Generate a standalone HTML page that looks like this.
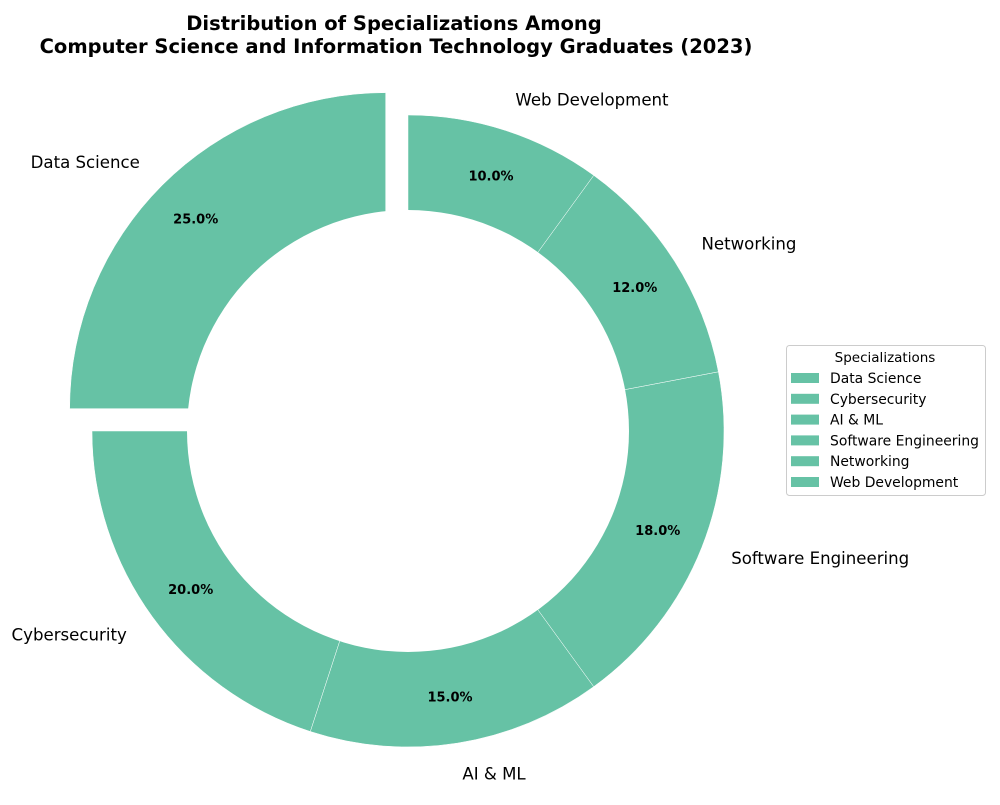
<!DOCTYPE html>
<html><head><meta charset="utf-8"><style>
body{margin:0;background:#fff;}
svg{font-family:"DejaVu Sans","Liberation Sans",sans-serif;}
</style></head><body>
<svg id="chart" width="1000" height="800" viewBox="0 0 1000 800">
<text x="394" y="30" text-anchor="middle" font-size="19.5" font-weight="bold">Distribution of Specializations Among</text>
<text x="396" y="53" text-anchor="middle" font-size="19.5" font-weight="bold">Computer Science and Information Technology Graduates (2023)</text>
<g id="wedges"></g>
<g id="labels"></g>
<g id="legend">
<rect x="786.5" y="345.5" width="199" height="150" rx="3" fill="#fff" stroke="#ccc"/>
<text x="885" y="362" text-anchor="middle" font-size="13.5">Specializations</text>
</g>
</svg>
<script>
const categories = ["Data Science","Cybersecurity","AI & ML","Software Engineering","Networking","Web Development"];
const values = [25,20,15,18,12,10];
const explodes = [0.1,0,0,0,0,0];
const color = "#66c2a5";
const cx=408, cy=431, R=316, r=221;
const ns="http://www.w3.org/2000/svg";
const svg=document.getElementById('wedges');
const lab=document.getElementById('labels');
const leg=document.getElementById('legend');
const total=values.reduce((a,b)=>a+b,0);
function pt(a,rad,ox,oy){return [cx+ox+Math.cos(a)*rad, cy+oy-Math.sin(a)*rad];}
let ang=90;
values.forEach((v,i)=>{
  const sweep=v/total*360;
  const a0=ang*Math.PI/180, a1=(ang+sweep)*Math.PI/180, am=(ang+sweep/2)*Math.PI/180;
  const ox=Math.cos(am)*explodes[i]*R, oy=-Math.sin(am)*explodes[i]*R;
  const large=sweep>180?1:0;
  const p0=pt(a0,R,ox,oy),p1=pt(a1,R,ox,oy);
  const d=`M${cx+ox},${cy+oy} L${p0[0]},${p0[1]} A${R},${R} 0 ${large} 0 ${p1[0]},${p1[1]} Z`;
  const path=document.createElementNS(ns,'path');
  path.setAttribute('d',d);path.setAttribute('fill',color);path.setAttribute('stroke','#fff');path.setAttribute('stroke-width','0.5');
  
  
  svg.appendChild(path);
  const lp=pt(am,R*1.1,ox,oy);
  const t=document.createElementNS(ns,'text');
  t.setAttribute('x',lp[0]);t.setAttribute('y',lp[1]+5);t.setAttribute('font-size','16.6');
  t.setAttribute('text-anchor',Math.cos(am)<0?'end':'start');
  t.textContent=categories[i];
  
  
  lab.appendChild(t);
  const pp=pt(am,R*0.85,ox,oy);
  const pt2=document.createElementNS(ns,'text');
  pt2.setAttribute('x',pp[0]);pt2.setAttribute('y',pp[1]+5);pt2.setAttribute('font-size','13');pt2.setAttribute('font-weight','bold');
  pt2.setAttribute('text-anchor','middle');
  pt2.textContent=(v/total*100).toFixed(1)+'%';
  
  
  lab.appendChild(pt2);
  const ly=373+i*20.8;
  const sw=document.createElementNS(ns,'rect');
  sw.setAttribute('x',791);sw.setAttribute('y',ly);sw.setAttribute('width',28);sw.setAttribute('height',10);sw.setAttribute('fill',color);
  
  
  leg.appendChild(sw);
  const lt=document.createElementNS(ns,'text');
  lt.setAttribute('x',830);lt.setAttribute('y',ly+10);lt.setAttribute('font-size','13.9');
  lt.textContent=categories[i];
  
  
  leg.appendChild(lt);
  ang+=sweep;
});
const hole=document.createElementNS(ns,'circle');
hole.setAttribute('cx',cx);hole.setAttribute('cy',cy);hole.setAttribute('r',r);hole.setAttribute('fill','#fff');


svg.appendChild(hole);
</script>
</body></html>
